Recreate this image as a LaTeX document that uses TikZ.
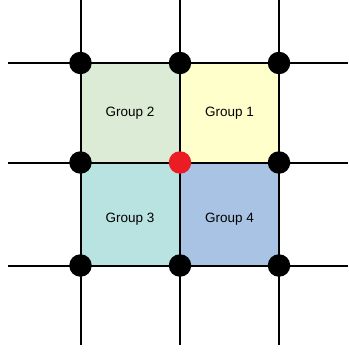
\documentclass[tikz,border=0pt]{standalone}
\usepackage{fontspec}
\setmainfont{Liberation Sans}
\definecolor{grpgreen}{HTML}{DCEBD5}
\definecolor{grpyellow}{HTML}{FFFFCC}
\definecolor{grpteal}{HTML}{B9E3E1}
\definecolor{grpblue}{HTML}{A9C3E5}
\definecolor{dotred}{HTML}{EC1C24}
\begin{document}
\begin{tikzpicture}[x=1pt, y=-1pt, line width=2pt,
    dot/.style={circle, fill=black, inner sep=0pt, minimum size=22.5pt},
    label/.style={font=\fontsize{13.5}{16}\selectfont}]
    \useasboundingbox (0, 0) rectangle (348, 353);

    % Points
    \coordinate (A1) at (80.5, 63);
    \coordinate (A2) at (180, 63);
    \coordinate (A3) at (279, 63);
    \coordinate (B1) at (80.5, 162.5);
    \coordinate (B2) at (180, 162.5);
    \coordinate (B3) at (279, 162.5);
    \coordinate (C1) at (80.5, 265.5);
    \coordinate (C2) at (180, 265.5);
    \coordinate (C3) at (279, 265.5);

    % Groups
    \fill[grpgreen] (A1) rectangle (B2);
    \fill[grpyellow] (A2) rectangle (B3);
    \fill[grpteal] (B1) rectangle (C2);
    \fill[grpblue] (B2) rectangle (C3);

    % Lines
    \draw (8, 63) -- (348, 63);
    \draw (8, 162.5) -- (348, 162.5);
    \draw (8, 265.5) -- (348, 265.5);
    \draw (80.5, 0) -- (80.5, 345);
    \draw (180, 0) -- (180, 345);
    \draw (279, 0) -- (279, 345);

    % Dots
    \node[dot] (d11) at (A1) {};
    \node[dot] (d12) at (A2) {};
    \node[dot] (d13) at (A3) {};
    \node[dot] (d21) at (B1) {};
    \node[dot, fill=dotred] (d22) at (B2) {};
    \node[dot] (d23) at (B3) {};
    \node[dot] (d31) at (C1) {};
    \node[dot] (d32) at (C2) {};
    \node[dot] (d33) at (C3) {};

    % Labels
    \node[label] (g2) at (130, 113) {Group 2};
    \node[label] (g1) at (229.5, 113) {Group 1};
    \node[label] (g3) at (130, 219) {Group 3};
    \node[label] (g4) at (229.5, 219) {Group 4};
\end{tikzpicture}
\end{document}
